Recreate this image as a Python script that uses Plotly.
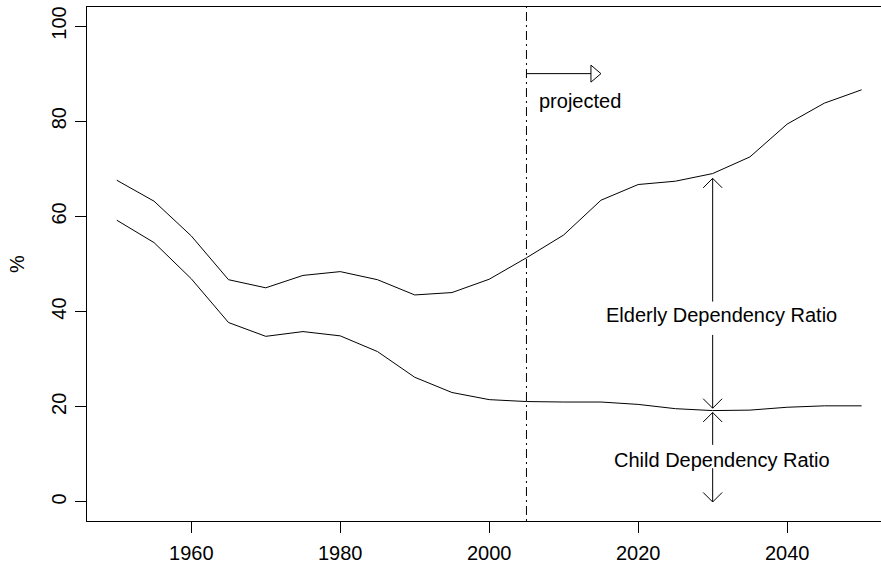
import plotly.graph_objects as go

# Dependency ratios (% of working-age population), 1950-2050; 2005 onward projected
years = [1950, 1955, 1960, 1965, 1970, 1975, 1980, 1985, 1990, 1995, 2000,
         2005, 2010, 2015, 2020, 2025, 2030, 2035, 2040, 2045, 2050]
total_ratio = [67.6, 63.2, 55.9, 46.7, 45.0, 47.6, 48.4, 46.7, 43.5, 44.0, 46.8,
               51.3, 56.1, 63.4, 66.7, 67.4, 69.0, 72.5, 79.4, 83.8, 86.6]
child_ratio = [59.2, 54.5, 46.9, 37.7, 34.8, 35.8, 34.9, 31.6, 26.2, 23.0, 21.5,
               21.1, 21.0, 21.0, 20.5, 19.6, 19.2, 19.3, 19.9, 20.2, 20.2]

x_ticks = [1960, 1980, 2000, 2020, 2040]
y_ticks = [0, 20, 40, 60, 80, 100]

projection_start = 2005
projection_arrow_end = 2015
projection_arrow_y = 90

bracket_x = 2030
label_x = 2031.2
elderly_top, elderly_bottom = 68.0, 19.7
elderly_gap = (35.1, 42.1)
child_top, child_bottom = 18.8, 0.0
child_gap = (7.1, 12.0)

FONT = "Liberation Sans, Arial, Helvetica, sans-serif"
INK = "black"

fig = go.Figure()
for series in (total_ratio, child_ratio):
    fig.add_trace(go.Scatter(x=years, y=series, mode="lines",
                             line=dict(color=INK, width=1), hoverinfo="skip",
                             showlegend=False))

shapes = []
# start of projections
shapes.append(dict(type="line", xref="x", yref="paper", x0=projection_start,
                   x1=projection_start, y0=0, y1=1,
                   line=dict(color=INK, width=1, dash="2px,4px,9px,4px")))
# "projected" arrow shaft and open triangular head
shapes.append(dict(type="line", xref="x", yref="y", x0=projection_start,
                   x1=projection_arrow_end - 1.3, y0=projection_arrow_y,
                   y1=projection_arrow_y, line=dict(color=INK, width=1)))
shapes.append(dict(type="path", xref="x", yref="y", xsizemode="pixel",
                   ysizemode="pixel", xanchor=projection_arrow_end,
                   yanchor=projection_arrow_y,
                   path="M-10,8.5 L0,0 L-10,-8.5 Z",
                   line=dict(color=INK, width=1), fillcolor="white"))


def shaft(y0, y1):
    return dict(type="line", xref="x", yref="y", x0=bracket_x, x1=bracket_x,
                y0=y0, y1=y1, line=dict(color=INK, width=1))


def head(y_tip, up):
    s = -1 if up else 1
    return dict(type="path", xref="x", yref="y", xsizemode="pixel",
                ysizemode="pixel", xanchor=bracket_x, yanchor=y_tip,
                path=f"M-9.5,{s * 9.5} L0,0 L9.5,{s * 9.5}",
                line=dict(color=INK, width=1))


# elderly dependency bracket
shapes += [shaft(elderly_gap[1], elderly_top), head(elderly_top, True),
           shaft(elderly_bottom, elderly_gap[0]), head(elderly_bottom, False)]
# child dependency bracket
shapes += [shaft(child_gap[1], child_top), head(child_top, True),
           shaft(child_bottom, child_gap[0]), head(child_bottom, False)]

annotations = [
    dict(x=2012.2, y=84.2, text="projected", showarrow=False,
         xanchor="center", yanchor="middle"),
    dict(x=label_x, y=39.2, text="Elderly Dependency Ratio", showarrow=False,
         xanchor="center", yanchor="middle"),
    dict(x=label_x, y=8.8, text="Child Dependency Ratio", showarrow=False,
         xanchor="center", yanchor="middle"),
]

fig.update_layout(
    width=881, height=570,
    margin=dict(l=87, r=0, t=7, b=49, pad=0),
    paper_bgcolor="white", plot_bgcolor="white",
    font=dict(family=FONT, size=20, color=INK),
    shapes=shapes, annotations=annotations,
    xaxis=dict(range=[1946, 2052.6], tickvals=x_ticks, ticks="outside",
               ticklen=11, tickwidth=1, tickcolor=INK, showgrid=False,
               zeroline=False, showline=True, linecolor=INK, linewidth=1,
               mirror=True, tickfont=dict(size=20), ticklabelstandoff=3),
    yaxis=dict(range=[-4, 104], tickvals=y_ticks, ticks="outside",
               ticklen=11, tickwidth=1, tickcolor=INK, showgrid=False,
               zeroline=False, showline=True, linecolor=INK, linewidth=1,
               tickangle=-90, tickfont=dict(size=20), ticklabelstandoff=1,
               title=dict(text="%", standoff=18, font=dict(size=20))),
)

fig.write_html("out.html")
